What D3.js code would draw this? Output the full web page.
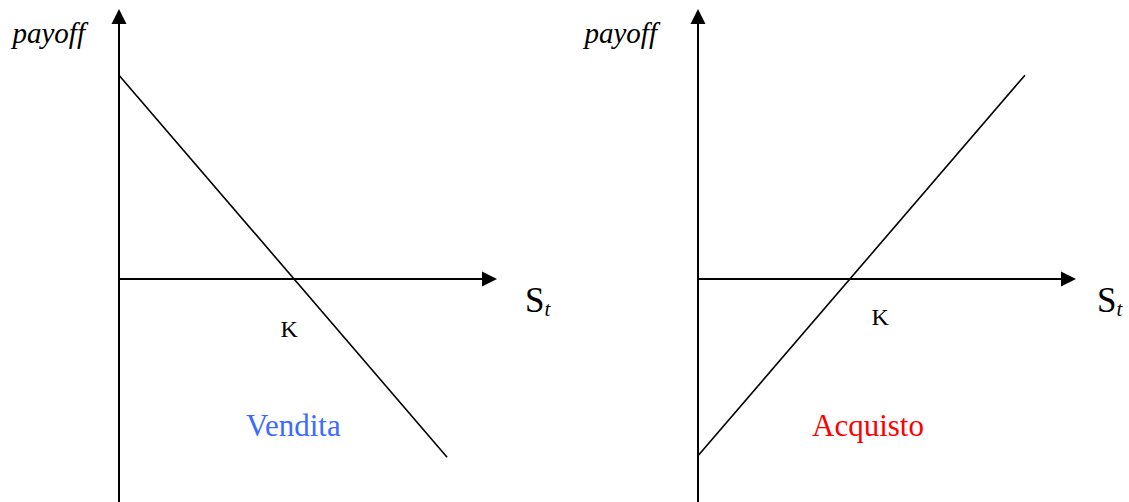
<!DOCTYPE html>
<html>
<head>
<meta charset="utf-8">
<script src="https://cdn.jsdelivr.net/npm/d3@7"></script>
<style>
  html, body { margin: 0; padding: 0; background: #fff; }
  svg { display: block; }
  text { font-family: 'Liberation Serif', 'DejaVu Serif', serif; }
</style>
</head>
<body>
<svg id="chart"></svg>
<script>
// payoff diagrams: short (vendita) and long (acquisto) forward
const panelNames = ['Vendita', 'Acquisto'];
const panelColors = ['#3d6bff', '#ff0000'];
const strikes = [45, 40.5];
const shortS = [0, 86.8];
const shortPayoff = [45.3, -39.6];
const longS = [0, 86.5];
const longPayoff = [-39.3, 45.3];

const xDomain = [0, 100];
const yDomain = [-50, 60];

const width = 1129, height = 502;
const svg = d3.select('#chart').attr('width', width).attr('height', height);
const serif = "'Liberation Serif', 'Times New Roman', serif";

const panels = [
  {left: 119, name: panelNames[0], color: panelColors[0], K: strikes[0],
   s: shortS, p: shortPayoff, payoffX: -34, kDx: 0, kY: 337, stDx: 28, nameX: 246},
  {left: 698, name: panelNames[1], color: panelColors[1], K: strikes[1],
   s: longS, p: longPayoff, payoffX: -41, kDx: 29, kY: 325, stDx: 21, nameX: 812}
];

panels.forEach(cfg => {
  const x = d3.scaleLinear().domain(xDomain).range([cfg.left, cfg.left + 378]);
  const y = d3.scaleLinear().domain(yDomain).range([504, 9]);
  const g = svg.append('g');

  // y axis with arrow
  g.append('line')
      .attr('x1', x(0)).attr('x2', x(0))
      .attr('y1', y(yDomain[0])).attr('y2', y(yDomain[1]) + 10)
      .attr('stroke', '#000').attr('stroke-width', 2);
  g.append('path')
      .attr('d', `M${x(0)},${y(yDomain[1])} l-7.5,15 h15 z`)
      .attr('fill', '#000');

  // x axis with arrow
  g.append('line')
      .attr('x1', x(0)).attr('x2', x(xDomain[1]) - 10)
      .attr('y1', y(0)).attr('y2', y(0))
      .attr('stroke', '#000').attr('stroke-width', 2);
  g.append('path')
      .attr('d', `M${x(xDomain[1])},${y(0)} l-15,-7.5 v15 z`)
      .attr('fill', '#000');

  // payoff line
  const pts = cfg.s.map((s, i) => [s, cfg.p[i]]);
  g.append('path')
      .datum(pts)
      .attr('d', d3.line().x(d => x(d[0])).y(d => y(d[1])))
      .attr('fill', 'none')
      .attr('stroke', '#000')
      .attr('stroke-width', 1.6);

  // labels
  g.append('text')
      .attr('x', x(0) + cfg.payoffX).attr('y', 43)
      .attr('text-anchor', 'end')
      .attr('font-family', serif)
      .attr('font-style', 'italic')
      .attr('font-size', 29)
      .text('payoff');

  const st = g.append('text')
      .attr('x', x(xDomain[1]) + cfg.stDx).attr('y', 312)
      .attr('font-family', serif)
      .attr('font-size', 35);
  st.append('tspan').text('S');
  st.append('tspan')
      .attr('dy', 4)
      .attr('font-style', 'italic')
      .attr('font-size', 21)
      .text('t');

  g.append('text')
      .attr('x', x(cfg.K) + cfg.kDx).attr('y', cfg.kY)
      .attr('text-anchor', 'middle')
      .attr('font-family', serif)
      .attr('font-size', 24)
      .text('K');

  g.append('text')
      .attr('x', cfg.nameX).attr('y', 436)
      .attr('fill', cfg.color)
      .attr('font-family', serif)
      .attr('font-size', 31)
      .text(cfg.name);
});
</script>
</body>
</html>
